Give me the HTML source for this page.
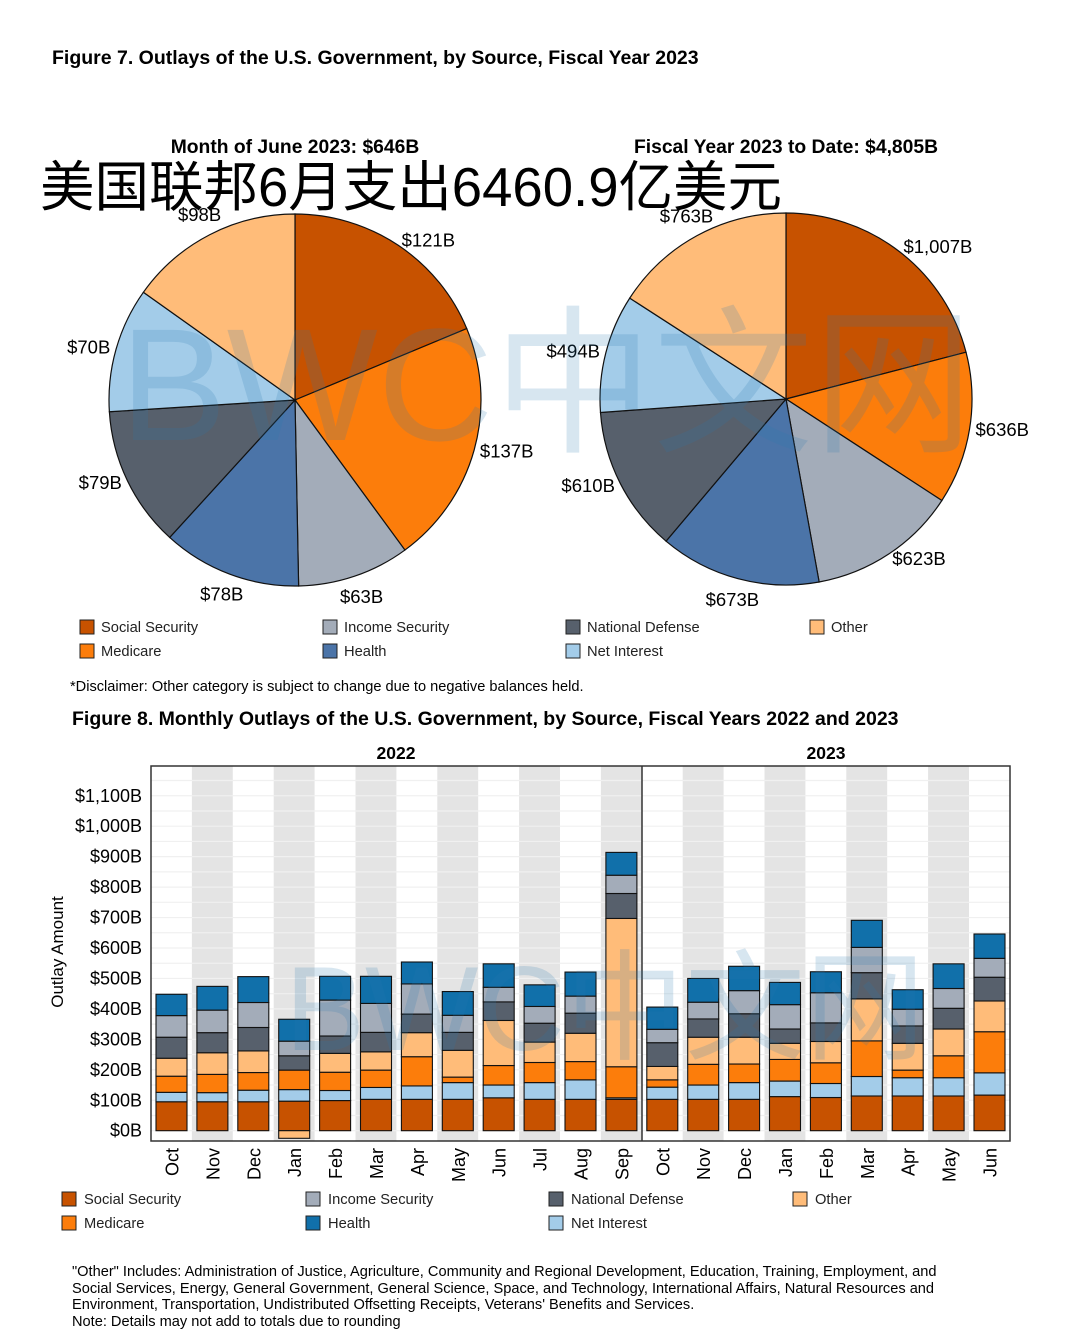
<!DOCTYPE html>
<html><head><meta charset="utf-8"><style>
body{margin:0;background:#fff;}
svg{display:block;font-family:"Liberation Sans","Noto Sans CJK SC",sans-serif;}
</style></head><body>
<svg id="s" width="1080" height="1344" viewBox="0 0 1080 1344" xmlns="http://www.w3.org/2000/svg">
<rect width="1080" height="1344" fill="#fff"/>
<text x="52" y="64" font-size="19.5" font-weight="bold">Figure 7. Outlays of the U.S. Government, by Source, Fiscal Year 2023</text>
<text x="295" y="153" font-size="19.3" font-weight="bold" text-anchor="middle">Month of June 2023: $646B</text>
<text x="786" y="153" font-size="19.3" font-weight="bold" text-anchor="middle">Fiscal Year 2023 to Date: $4,805B</text>
<g id="pies"></g>
<text x="40" y="206" font-size="54.5" fill="#000">美国联邦6月支出6460.9亿美元</text>
<g id="pieLegend"></g>
<text x="70" y="691" font-size="14.6">*Disclaimer: Other category is subject to change due to negative balances held.</text>
<text x="72" y="725" font-size="19.5" font-weight="bold">Figure 8. Monthly Outlays of the U.S. Government, by Source, Fiscal Years 2022 and 2023</text>
<text x="396" y="759" font-size="17.5" font-weight="bold" text-anchor="middle">2022</text>
<text x="826" y="759" font-size="17.5" font-weight="bold" text-anchor="middle">2023</text>
<g id="bars"></g>
<text transform="translate(63,952) rotate(-90)" font-size="17" text-anchor="middle">Outlay Amount</text>
<g id="barLegend"></g>
<g font-size="14.6">
<text x="72" y="1276">"Other" Includes: Administration of Justice, Agriculture, Community and Regional Development, Education, Training, Employment, and</text>
<text x="72" y="1293">Social Services, Energy, General Government, General Science, Space, and Technology, International Affairs, Natural Resources and</text>
<text x="72" y="1309">Environment, Transportation, Undistributed Offsetting Receipts, Veterans' Benefits and Services.</text>
<text x="72" y="1326">Note: Details may not add to totals due to rounding</text>
</g>
<g opacity="0.18" fill="#2a7ab0" font-size="160">
<text x="120" y="440">BWC中文网</text>
<text x="285" y="1050" font-size="120">BWC中文网</text>
</g>
</svg>
<script>
const NS="http://www.w3.org/2000/svg";
function mk(tag,attrs,parent){const e=document.createElementNS(NS,tag);for(const k in attrs)e.setAttribute(k,attrs[k]);parent.appendChild(e);return e;}
// pie data
const pieCats=["Social Security","Medicare","Income Security","Health","National Defense","Net Interest","Other"];
const pieColors=["#c75200","#fc7d0b","#a3acb9","#4b74a8","#57606c","#a3cce9","#ffbc79"];
const juneVals=[121,137,63,78,79,70,98];
const juneLabels=["$121B","$137B","$63B","$78B","$79B","$70B","$98B"];
const fytdVals=[1007,636,623,673,610,494,763];
const fytdLabels=["$1,007B","$636B","$623B","$673B","$610B","$494B","$763B"];
const pies=document.getElementById('pies');
function drawPie(vals,labels,cx,cy,r,name){
  const g=mk('g',{},pies);
  
  
  const tot=vals.reduce((a,b)=>a+b,0);let a0=0;
  vals.forEach((v,i)=>{
    const a1=a0+v/tot*2*Math.PI;
    const x0=cx+r*Math.sin(a0),y0=cy-r*Math.cos(a0),x1=cx+r*Math.sin(a1),y1=cy-r*Math.cos(a1);
    const p=mk('path',{d:`M${cx},${cy}L${x0},${y0}A${r},${r} 0 ${a1-a0>Math.PI?1:0} 1 ${x1},${y1}Z`,fill:pieColors[i],stroke:'#111','stroke-width':1.2},g);
    
    
    const am=(a0+a1)/2,s=Math.sin(am),c=Math.cos(am);
    let anchor='middle',lr=r+22;
    if(s>0.5){anchor='start';lr=r+6;}else if(s<-0.5){anchor='end';lr=r+6;}
    const t=mk('text',{x:cx+lr*s,y:cy-lr*c+6,'font-size':18.5,'text-anchor':anchor},g);
    t.textContent=labels[i];
    
    
    a0=a1;
  });
}
drawPie(juneVals,juneLabels,295,400,186,'june-pie');
drawPie(fytdVals,fytdLabels,786,399,186,'fytd-pie');
// legends
function legend(parent,xs,ys,order,colors,tx,size){
  const g=document.getElementById(parent);
  order.forEach((c,k)=>{
    const gi=mk('g',{},g);
    
    
    mk('rect',{x:xs[k%4],y:ys[Math.floor(k/4)]-12,width:14,height:14,fill:colors[pieCats.indexOf(c)],stroke:'#222'},gi);
    const t=mk('text',{x:xs[k%4]+tx,y:ys[Math.floor(k/4)],'font-size':size,fill:'#222'},gi);t.textContent=c;
  });
}
const legOrder=["Social Security","Income Security","National Defense","Other","Medicare","Health","Net Interest"];
legend('pieLegend',[80,323,566,810],[632,656],legOrder,pieColors,21,14.7);
const barColors=["#c75200","#fc7d0b","#a3acb9","#1170aa","#57606c","#a3cce9","#ffbc79"];
legend('barLegend',[62,306,549,793],[1204,1228],legOrder,barColors,22,14.7);
// bar data (stack order bottom->top)
const months=["Oct","Nov","Dec","Jan","Feb","Mar","Apr","May","Jun","Jul","Aug","Sep","Oct","Nov","Dec","Jan","Feb","Mar","Apr","May","Jun"];
const socialSecurity=[95,95,95,97,99,103,103,103,108,103,103,103,103,103,103,112,109,114,114,114,117];
const netInterest=[31,30,38,38,33,39,44,55,42,55,64,5,40,47,55,51,46,64,60,60,73];
const medicare=[53,60,58,64,60,57,96,18,64,66,60,102,24,68,61,71,68,117,25,72,135];
const other=[59,71,71,-25,62,60,79,88,148,67,93,487,44,89,88,53,70,138,88,88,101];
const nationalDefense=[69,66,77,47,57,64,61,59,61,62,66,82,78,60,77,47,61,86,57,68,78];
const incomeSecurity=[71,74,82,48,118,95,99,56,48,55,56,60,44,55,76,80,99,83,55,65,62];
const health=[70,78,85,72,78,89,72,78,77,71,79,75,73,78,80,73,69,89,64,81,80];
const yTicks=[0,100,200,300,400,500,600,700,800,900,1000,1100];
const yTickLabels=["$0B","$100B","$200B","$300B","$400B","$500B","$600B","$700B","$800B","$900B","$1,000B","$1,100B"];
const seriesList=[["social-security",socialSecurity,"#c75200"],["net-interest",netInterest,"#a3cce9"],["medicare",medicare,"#fc7d0b"],["other",other,"#ffbc79"],["national-defense",nationalDefense,"#57606c"],["income-security",incomeSecurity,"#a3acb9"],["health",health,"#1170aa"]];
const bars=document.getElementById('bars');
const X0=151,SLOT=40.9,Y0=1130.7,PX=0.3045;
const y=v=>Y0-v*PX;
const xs=i=>X0+i*SLOT;
for(let i=0;i<months.length;i++){if(i%2===1){const r=mk('rect',{x:xs(i),y:766,width:SLOT,height:375,fill:'#e4e4e4'},bars);}}
for(let v=0;v<=1150;v+=50){const l=mk('line',{x1:151,x2:1010,y1:y(v),y2:y(v),stroke:'#f0f0f0','stroke-width':1.2},bars);}
yTicks.forEach((v,k)=>{const t=mk('text',{x:142,y:y(v)+6,'font-size':18,'text-anchor':'end'},bars);t.textContent=yTickLabels[k];});
months.forEach((m,i)=>{
  let pos=0,neg=0;
  const bx=xs(i)+5,bw=31;
  seriesList.forEach(([nm,arr,col])=>{
    const v=arr[i];let top,bot;
    if(v>=0){bot=pos;top=pos+v;pos=top;}else{top=neg;bot=neg+v;neg=bot;}
    const r=mk('rect',{x:bx,y:y(top),width:bw,height:(top-bot)*PX,fill:col,stroke:'#111','stroke-width':1.1},bars);
    
    
  });
  const t=mk('text',{transform:`translate(${xs(i)+SLOT/2+7},1148) rotate(-90)`,'font-size':18,'text-anchor':'end'},bars);
  t.textContent=m;
  
  
});
const fr=mk('rect',{x:151,y:766,width:859,height:375,fill:'none',stroke:'#333','stroke-width':1.5},bars);

const dv=mk('line',{x1:642,x2:642,y1:766,y2:1141,stroke:'#333','stroke-width':1.5},bars);

</script>
</body></html>
